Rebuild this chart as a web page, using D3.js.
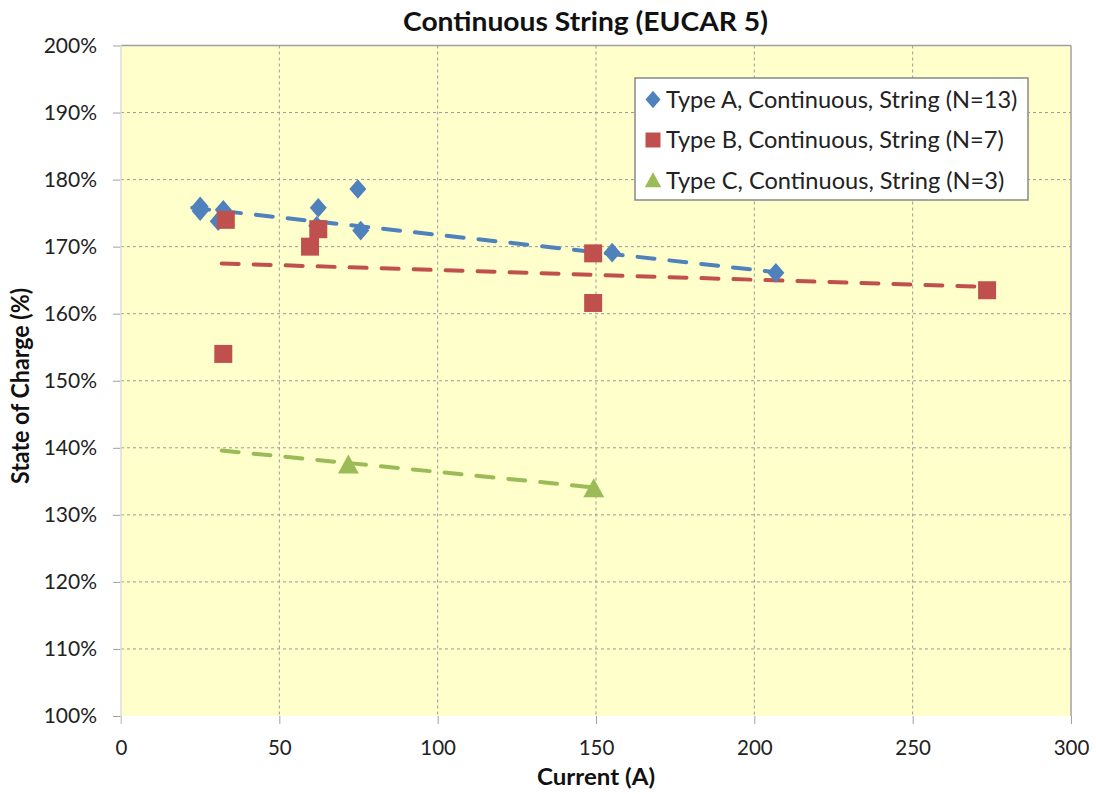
<!DOCTYPE html>
<html>
<head>
<meta charset="utf-8">
<script src="https://cdn.jsdelivr.net/npm/d3@7"></script>
<style>
  html, body { margin: 0; padding: 0; background: #fff; }
  svg { display: block; font-family: Lato, "Noto Sans", sans-serif; }
</style>
</head>
<body>
<svg id="chart" width="1096" height="794"></svg>
<script>
// ---- data ----
const title = "Continuous String (EUCAR 5)";
const xLabel = "Current (A)";
const yLabel = "State of Charge (%)";
const xTicks = [0, 50, 100, 150, 200, 250, 300];
const yTicks = [100, 110, 120, 130, 140, 150, 160, 170, 180, 190, 200];

const seriesNames = [
  "Type A, Continuous, String (N=13)",
  "Type B, Continuous, String (N=7)",
  "Type C, Continuous, String (N=3)"
];
const seriesColors = ["#4F81BD", "#C0504D", "#9BBB59"];
const seriesShapes = ["diamond", "square", "triangle"];

const typeA_current = [25, 25, 32.3, 30.7, 62.3, 61.8, 74.8, 75.7, 155.1, 206.8];
const typeA_soc     = [176, 175.3, 175.5, 173.8, 175.8, 173.1, 178.6, 172.4, 169.1, 166.1];

const typeB_current = [33.1, 62.3, 59.7, 32.3, 149.1, 149.1, 273.5];
const typeB_soc     = [174, 172.6, 170, 154, 169, 161.6, 163.5];

const typeC_current = [71.8, 149.3];
const typeC_soc     = [137.45, 133.9];

// linear trend line end points [x0, y0, x1, y1]
const trendA = [22.5, 175.8, 206.8, 166.2];
const trendB = [31.8, 167.5, 273.5, 164.0];
const trendC = [31.8, 139.6, 149.1, 134.1];

// ---- drawing ----
const svg = d3.select("#chart");
const L = 121, R = 1071, T = 45.5, B = 716;
const x = d3.scaleLinear().domain([0, 300]).range([L, R]);
const y = d3.scaleLinear().domain([100, 200]).range([B, T]);

// plot background
svg.append("rect").attr("x", L).attr("y", T).attr("width", R - L).attr("height", B - T)
  .attr("fill", "#FFFFCC");

// gridlines
svg.append("g").selectAll("line").data(yTicks.filter(d => d > 100 && d < 200)).join("line")
  .attr("x1", L).attr("x2", R).attr("y1", d => y(d)).attr("y2", d => y(d))
  .attr("stroke", "#9a9a9a").attr("stroke-width", 1).attr("stroke-dasharray", "3,3");
svg.append("g").selectAll("line").data(xTicks.filter(d => d > 0 && d < 300)).join("line")
  .attr("y1", T).attr("y2", B).attr("x1", d => x(d)).attr("x2", d => x(d))
  .attr("stroke", "#9a9a9a").attr("stroke-width", 1).attr("stroke-dasharray", "3,3");

// plot border top/right
svg.append("line").attr("x1", L).attr("x2", R).attr("y1", T).attr("y2", T).attr("stroke", "#a0a0a0").attr("stroke-width", 1.5);
svg.append("line").attr("x1", R).attr("x2", R).attr("y1", T).attr("y2", B).attr("stroke", "#a0a0a0").attr("stroke-width", 1.5);

// axes
const xAxis = d3.axisBottom(x).tickValues(xTicks).tickSize(8).tickFormat(d3.format("d"));
const gx = svg.append("g").attr("transform", `translate(0,${B})`).call(xAxis);
gx.select(".domain").remove();
gx.selectAll(".tick line").attr("stroke", "#a0a0a0");
gx.selectAll(".tick text").attr("font-size", 20.5).attr("fill", "#222")
  .attr("font-family", "Lato, sans-serif").attr("y", 39).attr("dy", 0);

const yAxis = d3.axisLeft(y).tickValues(yTicks).tickSize(8).tickPadding(16).tickFormat(d => d + "%");
const gy = svg.append("g").attr("transform", `translate(${L},0)`).call(yAxis);
gy.select(".domain").remove();
gy.selectAll(".tick line").attr("stroke", "#a0a0a0");
gy.selectAll(".tick text").attr("font-size", 21).attr("fill", "#222")
  .attr("font-family", "Lato, sans-serif").attr("x", -24);

// left axis line (light)
svg.append("line").attr("x1", L).attr("x2", L).attr("y1", T).attr("y2", B + 8).attr("stroke", "#dddddd").attr("stroke-width", 1.5);

// trend lines
const trends = [trendA, trendB, trendC];
svg.append("g").selectAll("line").data(trends).join("line")
  .attr("x1", d => x(d[0])).attr("y1", d => y(d[1]))
  .attr("x2", d => x(d[2])).attr("y2", d => y(d[3]))
  .attr("stroke", (d, i) => seriesColors[i]).attr("stroke-width", 4)
  .attr("stroke-dasharray", "17,15").attr("stroke-linecap", "round");

// markers
function shapePath(shape, s) {
  if (shape === "diamond") return `M0,${-s * 0.58}L${s * 0.5},0L0,${s * 0.58}L${-s * 0.5},0Z`;
  if (shape === "square") return `M${-s / 2},${-s / 2}H${s / 2}V${s / 2}H${-s / 2}Z`;
  return `M0,${-s * 0.55}L${s * 0.55},${s * 0.45}L${-s * 0.55},${s * 0.45}Z`;
}
const series = [
  [typeA_current, typeA_soc],
  [typeB_current, typeB_soc],
  [typeC_current, typeC_soc]
];
const sizes = [17, 18, 19];
series.forEach((s, i) => {
  const pts = s[0].map((c, j) => [c, s[1][j]]);
  svg.append("g").selectAll("path").data(pts).join("path")
    .attr("transform", d => `translate(${x(d[0])},${y(d[1])})`)
    .attr("d", shapePath(seriesShapes[i], sizes[i]))
    .attr("fill", seriesColors[i]);
});

// legend
const lg = svg.append("g");
lg.append("rect").attr("x", 635).attr("y", 78).attr("width", 393).attr("height", 122)
  .attr("fill", "#fff").attr("stroke", "#888").attr("stroke-width", 1.5);
seriesNames.forEach((n, i) => {
  const cy = 99.5 + i * 40.5;
  lg.append("path").attr("transform", `translate(653,${cy})`)
    .attr("d", shapePath(seriesShapes[i], 15)).attr("fill", seriesColors[i]);
  lg.append("text").attr("x", 666).attr("y", cy).attr("dy", "0.36em")
    .attr("font-size", 23.6).attr("fill", "#222").text(n);
});

// titles
svg.append("text").attr("x", 585.5).attr("y", 31).attr("text-anchor", "middle")
  .attr("font-size", 26).attr("font-weight", "bold").attr("fill", "#111")
  .attr("textLength", 365).attr("lengthAdjust", "spacingAndGlyphs").text(title);
svg.append("text").attr("x", 596).attr("y", 785).attr("text-anchor", "middle")
  .attr("font-size", 23).attr("font-weight", "bold").attr("fill", "#111")
  .attr("textLength", 118).attr("lengthAdjust", "spacingAndGlyphs").text(xLabel);
svg.append("text").attr("transform", "translate(29,386) rotate(-90)").attr("text-anchor", "middle")
  .attr("font-size", 24).attr("font-weight", "bold").attr("fill", "#111")
  .attr("textLength", 196).attr("lengthAdjust", "spacingAndGlyphs").text(yLabel);
</script>
</body>
</html>
